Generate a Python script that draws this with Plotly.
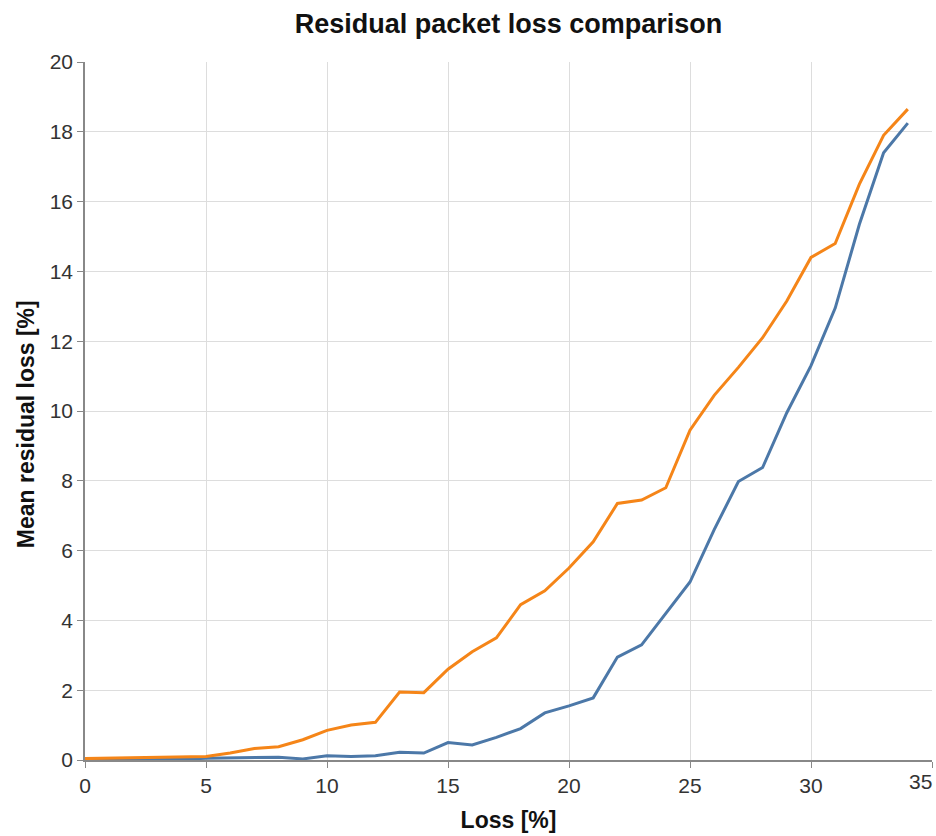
import plotly.graph_objects as go

loss = list(range(35))
series_a = [0.02, 0.02, 0.02, 0.02, 0.02, 0.05, 0.06, 0.05, 0.08, 0.03,
            0.12, 0.10, 0.12, 0.22, 0.20, 0.50, 0.43, 0.65, 0.90, 1.35,
            1.55, 1.78, 2.95, 3.30, 4.20, 5.10, 6.60, 7.98, 8.38, 9.95,
            11.30, 12.95, 15.35, 17.40, 18.25]
series_b = [0.04, 0.05, 0.05, 0.06, 0.08, 0.10, 0.20, 0.33, 0.38, 0.58,
            0.85, 1.00, 1.08, 1.95, 1.93, 2.60, 3.10, 3.50, 4.45, 4.85,
            5.50, 6.25, 7.35, 7.45, 7.80, 9.45, 10.45, 11.25, 12.10, 13.15,
            14.40, 14.80, 16.50, 17.90, 18.65]
x_ticks = [0, 5, 10, 15, 20, 25, 30, 35]
y_ticks = [0, 2, 4, 6, 8, 10, 12, 14, 16, 18, 20]

fig = go.Figure()
fig.add_trace(go.Scatter(x=loss, y=series_a, mode="lines",
                         line=dict(color="#4c78a8", width=3), showlegend=False))
fig.add_trace(go.Scatter(x=loss, y=series_b, mode="lines",
                         line=dict(color="#f58518", width=3), showlegend=False))

FONT = "Liberation Sans, Arial, sans-serif"
tickfont = dict(family=FONT, size=21, color="#333")
titlefont = dict(family=FONT, size=23, color="#111")

# last x tick label is drawn flush against the right edge (as in the reference)
x_text = [str(v) for v in x_ticks[:-1]] + [""]

fig.update_layout(
    width=936, height=836,
    margin=dict(l=85, r=4, t=62, b=76),
    paper_bgcolor="white", plot_bgcolor="white",
    title=dict(text="<b>Residual packet loss comparison</b>", x=0.5, xref="paper",
               xanchor="center", y=1 - 24 / 836, yref="container", yanchor="middle",
               font=dict(family=FONT, size=27, color="#111")),
    xaxis=dict(range=[0, 35], tickvals=x_ticks, ticktext=x_text, ticks="outside", ticklen=6,
               tickcolor="#888", showline=True, linecolor="#888", linewidth=1.5,
               gridcolor="#ddd", zeroline=False, tickfont=tickfont,
               title=dict(text="<b>Loss [%]</b>", standoff=16, font=titlefont)),
    yaxis=dict(range=[0, 20], tickvals=y_ticks, ticks="outside", ticklen=6,
               tickcolor="#888", showline=True, linecolor="#888", linewidth=1.5,
               gridcolor="#ddd", zeroline=False, tickfont=tickfont),
)
fig.add_annotation(x=x_ticks[-1], y=0, xref="x", yref="paper", text=str(x_ticks[-1]),
                   showarrow=False, xanchor="right", yanchor="top", xshift=2, yshift=-8,
                   font=tickfont)
fig.add_annotation(x=-0.0697, y=0.481, xref="paper", yref="paper",
                   text="<b>Mean residual loss [%]</b>", textangle=-90, showarrow=False,
                   xanchor="center", yanchor="middle", font=titlefont)
fig.write_html("out.html")
